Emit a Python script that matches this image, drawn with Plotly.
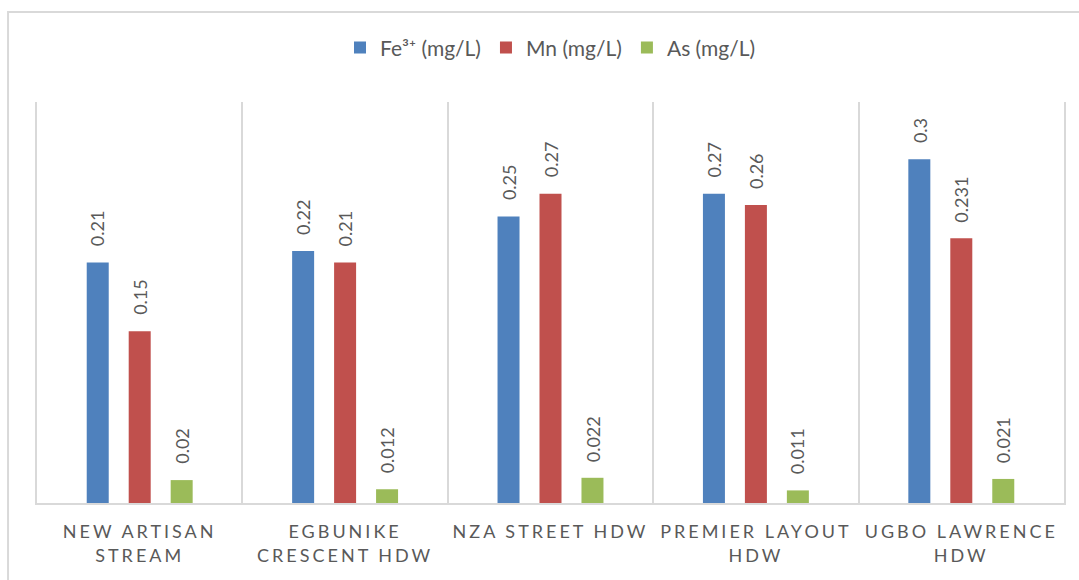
import plotly.graph_objects as go

# Sampling sites and measured concentrations (mg/L)
sites = [
    "NEW ARTISAN<br>STREAM",
    "EGBUNIKE<br>CRESCENT HDW",
    "NZA STREET HDW",
    "PREMIER LAYOUT<br>HDW",
    "UGBO LAWRENCE<br>HDW",
]
fe = [0.21, 0.22, 0.25, 0.27, 0.3]
mn = [0.15, 0.21, 0.27, 0.26, 0.231]
as_ = [0.02, 0.012, 0.022, 0.011, 0.021]

series = [
    ("Fe³⁺ (mg/L)", fe, "#4F81BD"),
    ("Mn (mg/L)", mn, "#C0504D"),
    ("As (mg/L)", as_, "#9BBB59"),
]

FONT = "Lato, 'Open Sans', sans-serif"
GREY_TEXT = "#595959"
GRID = "#D9D9D9"

W, H = 1079, 580
M_L, M_R, M_T, M_B = 37, 15, 102, 77
BARGAP = 0.387

fig = go.Figure()
for name, vals, color in series:
    fig.add_trace(go.Bar(
        name=name,
        x=sites,
        y=vals,
        marker=dict(color=color, line=dict(width=0)),
    ))

# value labels above each bar, rotated to read upward
cat_px = (W - M_L - M_R) / len(sites)
slot_px = cat_px * (1 - BARGAP) / len(series)
annotations = []
for i, (name, vals, color) in enumerate(series):
    offset = (i - (len(series) - 1) / 2) * slot_px
    for site, v in zip(sites, vals):
        annotations.append(dict(
            x=site, y=v, xref="x", yref="y",
            text=str(v), showarrow=False, textangle=-90,
            xanchor="center", yanchor="bottom",
            xshift=offset, yshift=14,
            font=dict(family=FONT, size=18, color=GREY_TEXT),
        ))

fig.update_layout(
    width=W,
    height=H,
    margin=dict(l=M_L, r=M_R, t=M_T, b=M_B),
    paper_bgcolor="white",
    plot_bgcolor="white",
    barmode="group",
    bargap=BARGAP,
    bargroupgap=0.476,
    showlegend=True,
    legend=dict(
        orientation="h",
        x=0.5, xanchor="center",
        y=1.135, yanchor="middle",
        font=dict(family=FONT, size=21, color=GREY_TEXT),
        itemwidth=30,
        traceorder="normal",
    ),
    xaxis=dict(
        tickson="boundaries",
        showgrid=True,
        gridcolor=GRID,
        gridwidth=1.5,
        showline=True,
        linecolor=GRID,
        linewidth=1.5,
        ticks="",
        tickfont=dict(family=FONT, size=18, color=GREY_TEXT),
        ticklabelstandoff=12,
    ),
    yaxis=dict(
        range=[0, 0.35],
        showgrid=False,
        zeroline=False,
        showticklabels=False,
        ticks="",
        showline=True,
        linecolor=GRID,
        linewidth=1.5,
        mirror=True,
    ),
    annotations=annotations,
    shapes=[
        # chart border
        dict(type="rect", xref="paper", yref="paper",
             x0=-0.0282, x1=1.2, y0=-0.6, y1=1.2244,
             line=dict(color=GRID, width=2), fillcolor="rgba(0,0,0,0)",
             layer="below"),
    ],
)

spacing_js = (
    "document.querySelectorAll('.xtick text').forEach(function(t){"
    "t.style.letterSpacing='3px';});"
)

fig.write_html("out.html", post_script=spacing_js)
